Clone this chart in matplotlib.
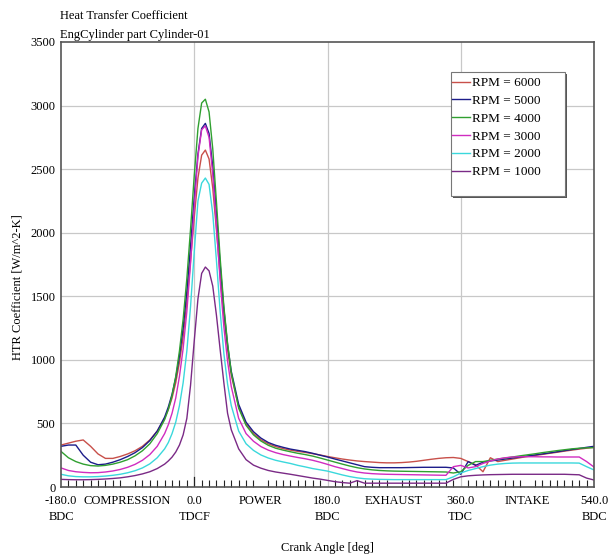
import matplotlib
matplotlib.use("Agg")
import matplotlib.pyplot as plt
from matplotlib.patches import Rectangle
from matplotlib.ticker import MultipleLocator

plt.rcParams['font.family'] = ['Liberation Serif', 'DejaVu Serif']

# Crank angle grid [deg]
angles = ([-180, -170, -160, -150, -140, -130, -120, -110, -100, -90, -80, -70, -60, -50, -40]
          + [-35, -30, -25, -20, -15, -10, -5, 0, 5, 10, 15, 20, 25, 30, 35, 40, 45, 50]
          + list(range(60, 541, 10)))

htc_6000 = [330, 345, 360, 370, 320, 260, 225, 225, 240, 260, 285, 320, 370, 440, 540,
            610, 700, 820, 980, 1180, 1450, 1780, 2120, 2430, 2610, 2650, 2580, 2350, 2020, 1660, 1340, 1080, 880,
            630, 495, 420, 372, 340, 318, 302, 290, 280, 272, 262, 252, 240, 230, 220, 212, 205, 200,
            196, 192, 190, 190, 192, 196, 202, 210, 218, 225, 230, 232, 225, 200, 175, 120, 230, 200,
            210, 220, 230, 240, 248, 256, 265, 273, 282, 290, 298, 305, 312]
htc_5000 = [320, 330, 330, 250, 195, 175, 180, 195, 215, 240, 270, 310, 365, 440, 550,
            630, 730, 860, 1030, 1250, 1540, 1900, 2280, 2620, 2820, 2860, 2780, 2520, 2150, 1750, 1400, 1120, 910,
            650, 510, 435, 385, 350, 328, 312, 298, 288, 278, 265, 250, 236, 220, 205, 190, 175, 160,
            155, 152, 152, 152, 152, 153, 154, 155, 155, 155, 155, 150, 100, 200, 170, 195, 205, 212,
            220, 228, 236, 244, 252, 260, 268, 277, 286, 295, 303, 312, 320]
htc_4000 = [280, 230, 200, 180, 168, 165, 170, 180, 195, 215, 245, 285, 340, 420, 530,
            610, 720, 870, 1070, 1320, 1640, 2030, 2450, 2820, 3020, 3050, 2950, 2660, 2240, 1800, 1420, 1130, 900,
            620, 485, 410, 362, 328, 305, 290, 277, 265, 255, 243, 228, 212, 196, 180, 165, 152, 142,
            135, 130, 127, 125, 124, 123, 122, 121, 120, 119, 118, 110, 120, 170, 200, 200, 210, 220,
            228, 236, 245, 253, 261, 270, 278, 286, 293, 300, 305, 308, 310]
htc_3000 = [150, 130, 120, 115, 112, 113, 118, 126, 138, 155, 178, 210, 255, 320, 420,
            490, 580, 700, 870, 1090, 1380, 1760, 2200, 2600, 2810, 2840, 2750, 2460, 2050, 1620, 1260, 990, 790,
            540, 420, 360, 318, 290, 270, 255, 243, 232, 222, 210, 195, 178, 160, 145, 130, 118, 110,
            105, 102, 100, 99, 98, 97, 96, 95, 94, 93, 92, 160, 170, 150, 160, 185, 205, 220,
            230, 236, 238, 238, 238, 237, 237, 236, 236, 236, 236, 200, 157]
htc_2000 = [100, 88, 82, 80, 80, 82, 86, 92, 100, 112, 128, 150, 182, 230, 300,
            350, 420, 510, 640, 820, 1070, 1420, 1850, 2250, 2390, 2430, 2380, 2150, 1780, 1380, 1050, 810, 640,
            440, 340, 288, 252, 228, 210, 197, 185, 170, 158, 145, 135, 125, 110, 95, 82, 72, 65,
            62, 60, 59, 58, 58, 58, 58, 58, 58, 58, 58, 80, 110, 130, 145, 160, 172, 180,
            185, 188, 189, 189, 189, 189, 189, 189, 189, 189, 188, 160, 134]
htc_1000 = [60, 58, 57, 57, 58, 60, 63, 67, 72, 80, 90, 103, 120, 145, 180,
            205, 235, 275, 330, 410, 540, 800, 1150, 1480, 1680, 1730, 1700, 1580, 1350, 1080, 820, 580, 450,
            300, 215, 172, 148, 130, 118, 109, 100, 90, 80, 70, 62, 52, 42, 35, 30, 50, 30,
            30, 30, 30, 30, 30, 30, 30, 30, 30, 30, 30, 60, 80, 88, 92, 95, 97, 98,
            99, 100, 100, 100, 100, 100, 100, 100, 100, 98, 96, 70, 55]

series = [
    ("RPM = 6000", htc_6000, "#c8504a"),
    ("RPM = 5000", htc_5000, "#1c1c8a"),
    ("RPM = 4000", htc_4000, "#30a030"),
    ("RPM = 3000", htc_3000, "#d02cc0"),
    ("RPM = 2000", htc_2000, "#3ad8dc"),
    ("RPM = 1000", htc_1000, "#7a2a86"),
]

tick_pos = [-180, -90, 0, 90, 180, 270, 360, 450, 540]
tick_labels = ["-180.0\nBDC", "COMPRESSION", "0.0\nTDCF", "POWER", "180.0\nBDC",
               "EXHAUST", "360.0\nTDC", "INTAKE", "540.0\nBDC"]

W, H = 613, 556
fig = plt.figure(figsize=(W / 100, H / 100), dpi=100)
ax = fig.add_axes([61 / W, 1 - 487 / H, 533 / W, 445 / H])

for label, vals, color in series:
    ax.plot(angles, vals, color=color, lw=1.0, label=label)

ax.set_xlim(-180, 540)
ax.set_ylim(0, 3500)

# grid: horizontal every 500, vertical at TDC/BDC marks
for yv in range(500, 3500, 500):
    ax.axhline(yv, color="#c8c8c8", lw=0.9, zorder=0)
for xv in (0, 180, 360):
    ax.axvline(xv, color="#c8c8c8", lw=0.9, zorder=0)

ax.set_yticks(range(0, 3501, 500))
ax.tick_params(axis="y", length=0, labelsize=9, pad=4)
ax.set_xticks(tick_pos)
ax.set_xticklabels(tick_labels, fontsize=9, linespacing=1.4)
ax.tick_params(axis="x", direction="in", length=0, pad=6)
ax.xaxis.set_minor_locator(MultipleLocator(10))
ax.tick_params(axis="x", which="minor", direction="in", length=5, width=0.8, color="#222222")
ax.axvline(0, ymin=0, ymax=10 / 445, color="#222222", lw=0.9)

for s in ax.spines.values():
    s.set_color("#555555")
    s.set_linewidth(1.2)

ax.set_xlabel("Crank Angle [deg]", fontsize=9, labelpad=14)
fig.text(18 / W, 1 - 287 / H, "HTR Coefficient [W/m^2-K]", fontsize=9,
         rotation=90, ha="center", va="center")

fig.text(60 / W, 0.965, "Heat Transfer Coefficient", fontsize=9, ha="left", va="baseline")
fig.text(60 / W, 0.932, "EngCylinder part Cylinder-01", fontsize=9, ha="left", va="baseline")

# legend box with a drop shadow
fig.add_artist(Rectangle((453 / W, 1 - 198 / H), 114 / W, 124 / H,
                         transform=fig.transFigure, facecolor="#555555",
                         edgecolor="none", zorder=4))
fig.add_artist(Rectangle((451 / W, 1 - 196 / H), 114 / W, 124 / H,
                         transform=fig.transFigure, facecolor="white",
                         edgecolor="#777777", lw=0.8, zorder=5))
leg = fig.legend(loc="upper left", bbox_to_anchor=(452 / W, 1 - 77 / H), fontsize=9.5,
                 frameon=False, handlelength=1.35, handletextpad=0.15,
                 labelspacing=0.42, borderpad=0, borderaxespad=0)
leg.set_zorder(6)

fig.savefig("out.png", dpi=100)
